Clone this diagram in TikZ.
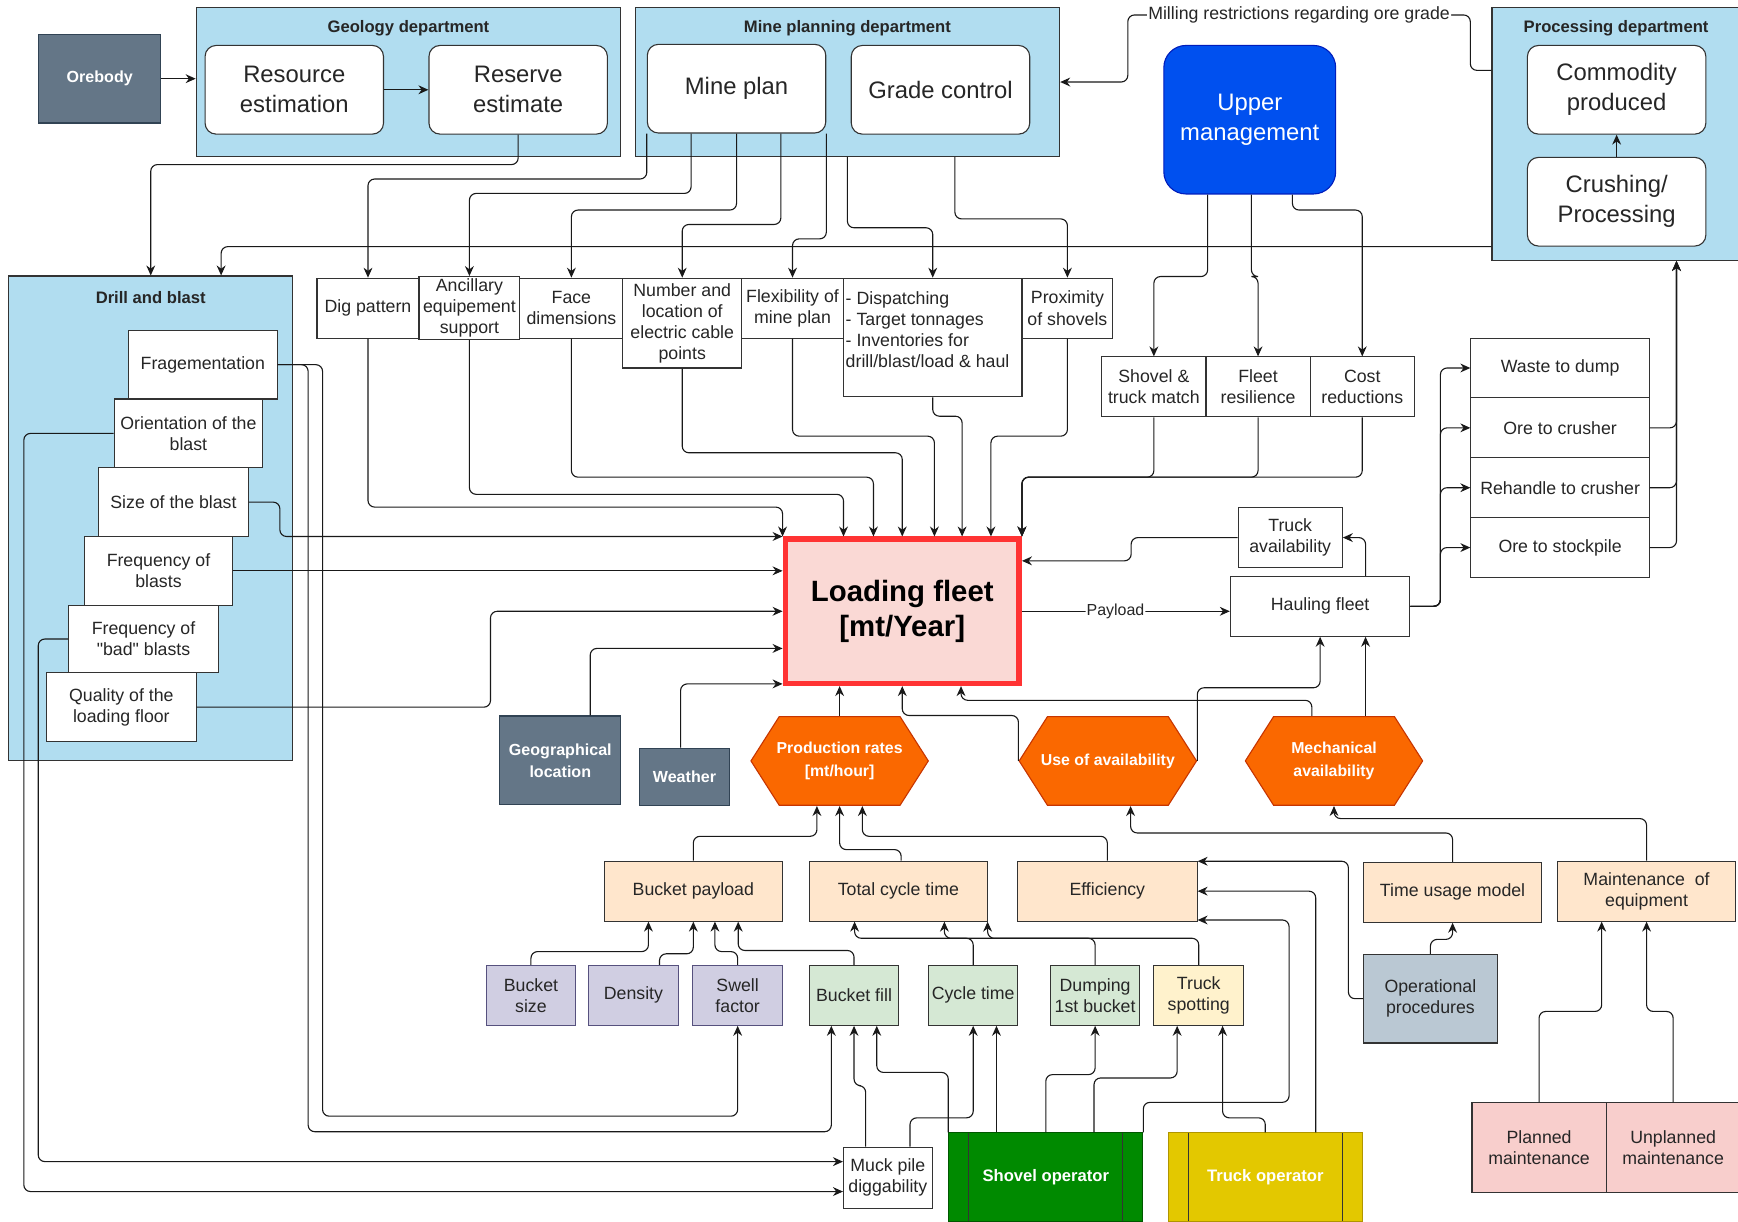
\documentclass[tikz,border=0pt]{standalone}
\usepackage{fontspec}
\setmainfont{Liberation Sans}[Ligatures=TeXOff]
\usetikzlibrary{arrows.meta}
\definecolor{deptblue}{HTML}{B1DDF0}
\definecolor{slate}{HTML}{647687}
\definecolor{slateline}{HTML}{314354}
\definecolor{hexorange}{HTML}{FA6800}
\definecolor{hexline}{HTML}{C73500}
\definecolor{peach}{HTML}{FFE6CC}
\definecolor{lilac}{HTML}{D0CEE2}
\definecolor{lilacline}{HTML}{56517E}
\definecolor{mint}{HTML}{D5E8D4}
\definecolor{cream}{HTML}{FFF2CC}
\definecolor{steel}{HTML}{BAC8D3}
\definecolor{rose}{HTML}{F8CECC}
\definecolor{fleetfill}{HTML}{FAD9D5}
\definecolor{fleetred}{HTML}{FF3333}
\definecolor{mgmtblue}{HTML}{0050EF}
\definecolor{mgmtline}{HTML}{001DBC}
\definecolor{shovelgreen}{HTML}{008A00}
\definecolor{shovelline}{HTML}{005700}
\definecolor{truckyellow}{HTML}{E3C800}
\definecolor{truckline}{HTML}{B09500}
\begin{document}
\begin{tikzpicture}[x=1pt, y=-1pt,
    cell/.style={draw=black!80, fill=white, line width=1pt, inner sep=2pt, align=center,
      text=black!85, font=\fontsize{16}{19}\selectfont},
    bigcell/.style={cell, rounded corners=10pt, minimum width=161, minimum height=80,
      font=\fontsize{21.5}{27}\selectfont},
    dept/.style={draw=black!80, fill=deptblue, line width=1pt},
    depttitle/.style={anchor=center, text=black!85, font=\bfseries\fontsize{15}{18}\selectfont},
    darkcell/.style={cell, fill=slate, draw=slateline, text=white,
      font=\bfseries\fontsize{14.5}{20}\selectfont},
    hexa/.style={inner sep=2pt, align=center, text=white,
      minimum width=161, minimum height=81, font=\bfseries\fontsize{14.3}{20}\selectfont,
      path picture={\draw[fill=hexorange, draw=hexline, line width=1pt]
        ([xshift=0.5pt]path picture bounding box.west)
        -- ([xshift=26pt,yshift=-0.5pt]path picture bounding box.north west)
        -- ([xshift=-26pt,yshift=-0.5pt]path picture bounding box.north east)
        -- ([xshift=-0.5pt]path picture bounding box.east)
        -- ([xshift=-26pt,yshift=0.5pt]path picture bounding box.south east)
        -- ([xshift=26pt,yshift=0.5pt]path picture bounding box.south west) -- cycle;}},
    operatorbox/.style={cell, text=white, minimum width=175, minimum height=80,
      font=\bfseries\fontsize{15}{18}\selectfont,
      path picture={\draw[line width=1pt, black!80]
        ([xshift=18pt]path picture bounding box.north west) -- ([xshift=18pt]path picture bounding box.south west)
        ([xshift=-18pt]path picture bounding box.north east) -- ([xshift=-18pt]path picture bounding box.south east);}},
    wire/.style={draw=black!90, line width=1pt, rounded corners=6pt, -{Stealth[length=9pt,width=8pt]}},
    lbl/.style={fill=white, inner sep=1pt, text=black!85, font=\fontsize{14.4}{17}\selectfont}]
\useasboundingbox (0,0) rectangle (1568,1102);

% departments
\node[dept, minimum width=383, minimum height=134,
  label={[depttitle, yshift=-19pt]north:Geology department}] (geo) at (368.5,74) {};
\node[dept, minimum width=383, minimum height=134,
  label={[depttitle, yshift=-19pt]north:Mine planning department}] (mpd) at (764.5,74) {};
\node[dept, minimum width=224, minimum height=228,
  label={[depttitle, yshift=-19pt]north:Processing department}] (proc) at (1458,121) {};
\node[dept, minimum width=256, minimum height=437,
  label={[depttitle, yshift=-20pt]north:Drill and blast}] (drill) at (136,467.5) {};

% top row
\node[darkcell, minimum width=110, minimum height=80] (orebody) at (90,71) {Orebody};
\node[bigcell] (resource) at (265.5,81) {Resource\\estimation};
\node[bigcell] (reserve) at (467.5,81) {Reserve\\estimate};
\node[bigcell] (mineplan) at (664.5,80) {Mine plan};
\node[bigcell] (gradectrl) at (848.5,81) {Grade control};
\node[bigcell, fill=mgmtblue, draw=mgmtline, text=white, rounded corners=20pt,
  minimum width=155, minimum height=134] (mgmt) at (1127.5,108) {Upper\\management};
\node[bigcell] (commodity) at (1458.5,81) {Commodity\\produced};
\node[bigcell] (crushing) at (1458.5,182) {Crushing/\\Processing};

% mine planning outputs
\node[cell, minimum width=92, minimum height=54] (dig) at (332,278) {Dig pattern};
\node[cell, minimum width=91, minimum height=54] (ancillary) at (423.5,278) {Ancillary\\equipement\\support};
\node[cell, minimum width=93, minimum height=54] (face) at (515.5,278) {Face\\dimensions};
\node[cell, minimum width=107, minimum height=81] (cable) at (615.5,291.5) {Number and\\location of\\electric cable\\points};
\node[cell, minimum width=92, minimum height=54] (flex) at (715,278) {Flexibility of\\mine plan};
\node[cell, align=left, minimum width=161, minimum height=107] (dispatch) at (841.5,304.5)
  {\parbox[c][103pt][t]{157pt}{\vspace*{10pt}- Dispatching\\- Target tonnages\\- Inventories for\\drill/blast/load \& haul}};
\node[cell, minimum width=82, minimum height=54] (prox) at (963,278) {Proximity\\of shovels};

% drill and blast
\node[cell, minimum width=134, minimum height=62] (frag) at (183,329) {Fragementation};
\node[cell, minimum width=134, minimum height=62] (orient) at (170,391) {Orientation of the\\blast};
\node[cell, minimum width=135, minimum height=62] (size) at (156.5,453) {Size of the blast};
\node[cell, minimum width=134, minimum height=62] (freq) at (143,515) {Frequency of\\blasts};
\node[cell, minimum width=135, minimum height=61] (bad) at (129.5,576.5) {Frequency of\\"bad" blasts};
\node[cell, minimum width=135, minimum height=62] (quality) at (109.5,638) {Quality of the\\loading floor};

% management targets
\node[cell, minimum width=94, minimum height=54] (shovtruck) at (1041,349) {Shovel \&\\truck match};
\node[cell, minimum width=94, minimum height=54] (fleetres) at (1135,349) {Fleet\\resilience};
\node[cell, minimum width=94, minimum height=54] (cost) at (1229,349) {Cost\\reductions};

% haul destinations
\node[cell, minimum width=161, minimum height=54] (waste) at (1407.5,332) {Waste to dump};
\node[cell, minimum width=161, minimum height=54] (orecrusher) at (1407.5,386) {Ore to crusher};
\node[cell, minimum width=161, minimum height=54] (rehandle) at (1407.5,440) {Rehandle to crusher};
\node[cell, minimum width=161, minimum height=54] (stockpile) at (1407.5,494) {Ore to stockpile};
\node[cell, minimum width=94, minimum height=54] (truckav) at (1164,485) {Truck\\availability};
\node[cell, minimum width=162, minimum height=54] (hauling) at (1191,547) {Hauling fleet};

% loading fleet
\node[cell, draw=fleetred, fill=fleetfill, line width=5pt, minimum width=211, minimum height=130,
  text=black, font=\bfseries\fontsize{26.5}{32}\selectfont] (lf) at (814,551.5) {Loading fleet\\{[mt/Year]}};

\node[darkcell, minimum width=109, minimum height=80] (geoloc) at (505.5,686) {Geographical\\location};
\node[darkcell, minimum width=81, minimum height=52] (weather) at (617.5,701) {Weather};
\node[hexa] (prodrate) at (757.5,686.5) {Production rates\\{[mt/hour]}};
\node[hexa] (useavail) at (999.5,686.5) {Use of availability};
\node[hexa] (mechavail) at (1203.5,686.5) {Mechanical\\availability};

% performance factors
\node[cell, fill=peach, minimum width=161, minimum height=54] (bpayload) at (625.5,804) {Bucket payload};
\node[cell, fill=peach, minimum width=161, minimum height=54] (totcycle) at (810.5,804) {Total cycle time};
\node[cell, fill=peach, minimum width=162, minimum height=54] (efficiency) at (999,804) {Efficiency};
\node[cell, fill=peach, minimum width=161, minimum height=54] (timeusage) at (1310.5,805) {Time usage model};
\node[cell, fill=peach, minimum width=161, minimum height=54] (maintenance) at (1485.5,804) {Maintenance~ of\\equipment};

\node[cell, fill=lilac, draw=lilacline, minimum width=80, minimum height=54] (bsize) at (479,898) {Bucket\\size};
\node[cell, fill=lilac, draw=lilacline, minimum width=81, minimum height=54] (density) at (571.5,898) {Density};
\node[cell, fill=lilac, draw=lilacline, minimum width=81, minimum height=54] (swell) at (665.5,898) {Swell\\factor};
\node[cell, fill=mint, minimum width=81, minimum height=54] (bfill) at (770.5,898) {Bucket fill};
\node[cell, fill=mint, minimum width=80, minimum height=54] (cycle) at (878,898) {Cycle time};
\node[cell, fill=mint, minimum width=80, minimum height=54] (dumping) at (988,898) {Dumping\\1st bucket};
\node[cell, fill=cream, minimum width=81, minimum height=54] (spotting) at (1081.5,898) {Truck\\spotting};
\node[cell, fill=steel, minimum width=121, minimum height=80] (opproc) at (1290.5,901) {Operational\\procedures};

% operators and maintenance
\node[cell, minimum width=80, minimum height=55] (muckpile) at (801,1062.5) {Muck pile\\diggability};
\node[operatorbox, fill=shovelgreen, draw=shovelline] (shovelop) at (943.5,1062) {Shovel operator};
\node[operatorbox, fill=truckyellow, draw=truckline] (truckop) at (1141.5,1062) {Truck operator};
\node[cell, fill=rose, minimum width=121, minimum height=81] (planned) at (1388.5,1035.5) {Planned\\maintenance};
\node[cell, fill=rose, minimum width=121, minimum height=81] (unplanned) at (1509.5,1035.5) {Unplanned\\maintenance};

% geology and processing links
\draw[wire] (orebody.east) -- (orebody.east -| geo.west);
\draw[wire] (resource) -- (reserve);
\draw[wire] (reserve.south) -- ++(0,27) -| (drill.north);
\draw[wire] ([yshift=13pt]proc.south west) -| ([xshift=192pt]drill.north west);
\draw[wire] ([yshift=-57pt]proc.north west) -- ++(-19,0) -- ++(0,-50)
  -- node[lbl, font=\fontsize{16}{19}\selectfont]{Milling restrictions regarding ore grade} ++(-309,0) |- (mpd.east);
\draw[wire] (crushing) -- (commodity);

% mine planning
\draw[wire] (mineplan.south west) -- ++(0,41) -| (dig.north);
\draw[wire] ([xshift=40pt]mineplan.south west) -- ++(0,54) -| (ancillary.north);
\draw[wire] ([xshift=81pt]mineplan.south west) -- ++(0,69) -| (face.north);
\draw[wire] ([xshift=121pt]mineplan.south west) -- ++(0,82) -| (cable.north);
\draw[wire] (mineplan.south east) -- ++(0,95) -| (flex.north);
\draw[wire] (mpd.south) -- ++(0,64) -| (dispatch.north);
\draw[wire] ([xshift=97pt]mpd.south) -- ++(0,56) -| (prox.north);

% upper management
\draw[wire] ([xshift=-38pt]mgmt.south) -- ++(0,74) -| (shovtruck.north);
\draw[wire] ([xshift=1.5pt]mgmt.south) -- ++(0,74) -| (fleetres.north);
\draw[wire] ([xshift=38.5pt]mgmt.south) -- ++(0,14) -| (cost.north);

% into the loading fleet
\draw[wire] (dig.south) -- ++(0,152) -| (lf.north west);
\draw[wire] (ancillary.south) -- ++(0,139) -| ([xshift=-53pt]lf.north);
\draw[wire] (face.south) -- ++(0,125) -| ([xshift=-26pt]lf.north);
\draw[wire] (cable.south) -- ++(0,76) -| (lf.north);
\draw[wire] (flex.south) -- ++(0,88) -| ([xshift=29pt]lf.north);
\draw[wire] (dispatch.south) -- ++(0,17) -| ([xshift=54pt]lf.north);
\draw[wire] (prox.south) -- ++(0,88) -| ([xshift=80pt]lf.north);
\foreach \n in {shovtruck,fleetres,cost}
  \draw[wire] (\n.south) -- ++(0,54) -| (lf.north east);
\draw[wire] (size.east) -- ++(28,0) |- (lf.north west);
\draw[wire] (freq.east) -- (freq.east -| lf.west);
\draw[wire] (quality.east) -- ++(265,0) |- (lf.west);
\draw[wire] ([xshift=27pt]geoloc.north) |- ([yshift=-33.5pt]lf.west);
\draw[wire] ([xshift=-3.5pt]weather.north) |- ([yshift=2pt]lf.south west);
\draw[wire] (prodrate.north) -- (prodrate.north |- lf.south);
\draw[wire] (useavail.west) -- ++(0,-41) -| (lf.south);
\draw[wire] ([xshift=-20pt]mechavail.north) -- ++(0,-14) -| ([xshift=53pt]lf.south);
\draw[wire] (truckav.west) -- ++(-96,0) |- ([yshift=45.5pt]lf.east);

% hauling
\draw[wire] (lf.east) -- node[lbl, pos=0.45]{Payload} (lf.east -| hauling.west);
\draw[wire] (useavail.east) -- ++(0,-66) -| (hauling.south);
\draw[wire] ([xshift=28.5pt]mechavail.north) -- ([xshift=41pt]hauling.south);
\draw[wire] ([xshift=41pt]hauling.north) |- (truckav.east);
\foreach \n in {waste,orecrusher,rehandle,stockpile}
  \draw[wire] (hauling.east) -- ++(27,0) |- (\n.west);
\foreach \n in {orecrusher,rehandle,stockpile}
  \draw[wire] (\n.east) -| ([xshift=54.5pt]proc.south);

% drill and blast down to the bucket
\draw[wire] (frag.east) -| (291,1007) -| (swell.south);
\draw[wire] (frag.east) -| (278,1021) -| ([xshift=-20.5pt]bfill.south);
\draw[wire] (orient.west) -- ++(-81,0) |- ([yshift=-12.5pt]muckpile.west);
\draw[wire] (bad.west) -- ++(-27,0) |- ([yshift=14.5pt]muckpile.west);

% operators
\draw[wire] ([xshift=-20pt]muckpile.north) -- ++(0,-55) -| (bfill.south);
\draw[wire] ([xshift=20pt]muckpile.north) -- ++(0,-26) -| (cycle.south);
\draw[wire] (shovelop.north west) -- ++(0,-54) -| ([xshift=20.5pt]bfill.south);
\draw[wire] ([xshift=-44.5pt]shovelop.north) -- ([xshift=21pt]cycle.south);
\draw[wire] (shovelop.north) -- ++(0,-52) -| (dumping.south);
\draw[wire] ([xshift=43.5pt]shovelop.north) -- ++(0,-49) -| ([xshift=-19.5pt]spotting.south);
\draw[wire] (shovelop.north east) -- ++(0,-27) -| (1163,830) -- ([yshift=-26pt]efficiency.east);
\draw[wire] (truckop.north) -- ++(0,-13) -| ([xshift=21.5pt]spotting.south);
\draw[wire] ([xshift=45.5pt]truckop.north) |- (efficiency.east);
\draw[wire] (opproc.west) -- ++(-13,0) |- ([yshift=27pt]efficiency.east);
\draw[wire] (opproc.north) -- ++(0,-13) -| (timeusage.south);

% factors up to the rates
\draw[wire] (timeusage.north) -- ++(0,-26) -| ([xshift=20.5pt]useavail.south);
\draw[wire] (maintenance.north) -- ++(0,-38) -| (mechavail.south);
\draw[wire] (planned.north) -- ++(0,-82) -| ([xshift=-40.5pt]maintenance.south);
\draw[wire] (unplanned.north) -- ++(0,-82) -| (maintenance.south);
\draw[wire] (efficiency.north) -- ++(0,-22) -| ([xshift=20.5pt]prodrate.south);
\draw[wire] ([xshift=2.5pt]totcycle.north) -- ++(0,-10) -| (prodrate.south);
\draw[wire] (bpayload.north) -- ++(0,-22) -| ([xshift=-20.5pt]prodrate.south);
\draw[wire] (bsize.north) -- ++(0,-12) -| ([xshift=-40.5pt]bpayload.south);
\draw[wire] ([xshift=23.5pt]density.north) -- ++(0,-10) -| (bpayload.south);
\draw[wire] (swell.north) -- ++(0,-12) -| ([xshift=19.5pt]bpayload.south);
\draw[wire] (bfill.north) -- ++(0,-13) -| ([xshift=40.5pt]bpayload.south);
\draw[wire] (cycle.north) -- ++(0,-24) -| ([xshift=-39.5pt]totcycle.south);
\draw[wire] (dumping.north) -- ++(0,-24) -| ([xshift=41.5pt]totcycle.south);
\draw[wire] (spotting.north) -- ++(0,-24) -| ([xshift=80.5pt]totcycle.south);
\end{tikzpicture}
\end{document}
